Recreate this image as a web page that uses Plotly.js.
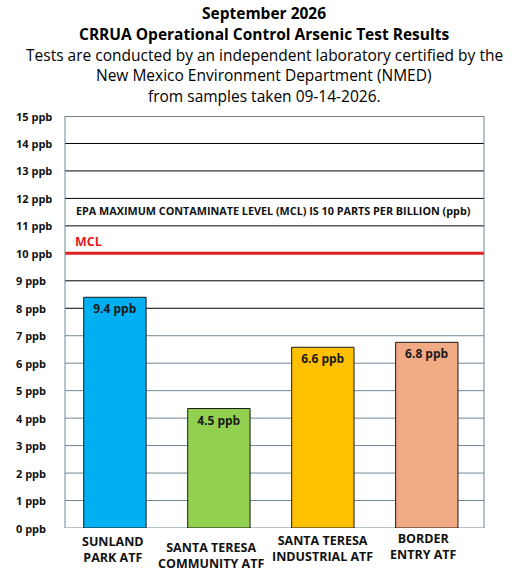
<!DOCTYPE html>
<html>
<head>
<meta charset="utf-8">
<script src="https://cdn.plot.ly/plotly-3.0.1.min.js"></script>
<style>html,body{margin:0;padding:0;background:#fff}#chart{width:512px;height:572px}</style>
</head>
<body>
<div id="chart"></div>
<script>
// ---- data ----
var categories = ["SUNLAND<br>PARK ATF", "SANTA TERESA<br>COMMUNITY ATF", "SANTA TERESA<br>INDUSTRIAL ATF", "BORDER<br>ENTRY ATF"];
var barHeights = [8.4, 4.35, 6.58, 6.76];           // drawn bar heights (ppb)
var barLabels = ["9.4 ppb", "4.5 ppb", "6.6 ppb", "6.8 ppb"];
var barColors = ["#00B0F0", "#92D050", "#FFC000", "#F2AA84"];
var tickValues = [0,1,2,3,4,5,6,7,8,9,10,11,12,13,14,15];
var tickLabels = tickValues.map(function(v){ return v + " ppb"; });
var mclValue = 10;
var mclNote = "EPA MAXIMUM CONTAMINATE LEVEL (MCL) IS 10 PARTS PER BILLION (ppb)";
var titleLines = ["September 2026", "CRRUA Operational Control Arsenic Test Results",
  "Tests are conducted by an independent laboratory certified by the",
  "New Mexico Environment Department (NMED)", "from samples taken 09-14-2026."];
var titleBold = [true, true, false, false, false];

// ---- styling ----
var FONT = "Open Sans, Noto Sans, Arial, sans-serif";
var slate = "#6F8797";
var catLabelXShift = [-2, -8, 0, -3];
var catLabelYShift = [-21.5, -27.5, -20, -18.5];

var shapes = [];
tickValues.forEach(function(v){
  if (v === mclValue) return;
  shapes.push({type:"line", xref:"paper", yref:"y", x0:0, x1:1, y0:v, y1:v,
    line:{color: v >= 8 ? "#000000" : slate, width:1}, layer:"below"});
});
shapes.push({type:"line", xref:"paper", yref:"y", x0:0, x1:1, y0:mclValue, y1:mclValue,
  line:{color:"#E0201E", width:3}, layer:"below"});
shapes.push({type:"line", xref:"paper", yref:"y", x0:0, x1:0, y0:0, y1:15, line:{color:slate, width:1}, layer:"below"});
shapes.push({type:"line", xref:"paper", yref:"y", x0:1, x1:1, y0:0, y1:15, line:{color:slate, width:1}, layer:"below"});

var annotations = tickValues.map(function(v, i){
  return {xref:"paper", yref:"y", x:-0.122, y:v, xanchor:"left", yanchor:"middle",
    text:tickLabels[i], showarrow:false, font:{family:FONT, size:11, color:"#111", weight:"bold"}};
});
annotations.push({xref:"paper", yref:"y", x:0.497, y:11.55, xanchor:"center", yanchor:"middle",
  text:mclNote, showarrow:false, font:{family:FONT, size:10.8, color:"#111", weight:"bold"}});
annotations.push({xref:"paper", yref:"y", x:0.02, y:10.42, xanchor:"left", yanchor:"middle",
  text:"MCL", showarrow:false, font:{family:FONT, size:12.5, color:"#E0201E", weight:"bold"}});

// category labels under the bars
categories.forEach(function(c, i){
  annotations.push({xref:"x", yref:"paper", x:c, y:0, xanchor:"center", yanchor:"middle",
    xshift:catLabelXShift[i], yshift:catLabelYShift[i], text:c, showarrow:false,
    font:{family:FONT, size:12.5, color:"#111", weight:"bold"}});
});

// title lines (paper coords; plot area is 412px tall starting 116px from top)
var titleCenters = [13, 34, 54.5, 75, 95.5];
titleLines.forEach(function(t, i){
  annotations.push({xref:"paper", yref:"paper", x:0.475, y:(528 - titleCenters[i]) / 412,
    xanchor:"center", yanchor:"middle", text:t, showarrow:false,
    font:{family:FONT, size:15.5, color:"#000", weight: titleBold[i] ? "bold" : "normal"}});
});

var trace = {
  type:"bar", x:categories, y:barHeights, text:barLabels,
  textposition:"inside", insidetextanchor:"end", textangle:0,
  textfont:{family:FONT, size:12, color:"#1a1a1a", weight:"bold"},
  marker:{color:barColors, line:{color:"#1a1a1a", width:1}},
  width:0.6, hoverinfo:"none", cliponaxis:false
};

var layout = {
  width:512, height:572,
  margin:{l:65, r:28, t:116, b:44},
  paper_bgcolor:"#fff", plot_bgcolor:"#fff",
  showlegend:false,
  xaxis:{range:[-0.48, 3.55], showgrid:false, zeroline:false, showline:false, ticks:"",
    showticklabels:false, automargin:false, fixedrange:true},
  yaxis:{range:[0,15], showgrid:false, zeroline:false, showline:false, showticklabels:false, ticks:"",
    automargin:false, fixedrange:true},
  shapes:shapes,
  annotations:annotations
};

Plotly.newPlot("chart", [trace], layout, {displayModeBar:false, staticPlot:true});
</script>
</body>
</html>
